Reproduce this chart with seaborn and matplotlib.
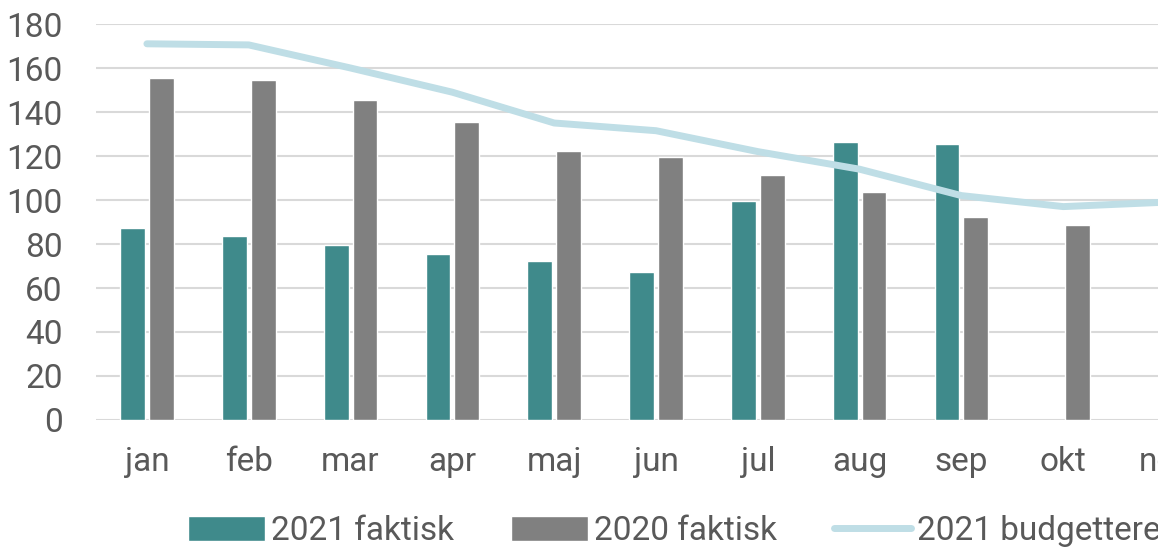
import numpy as np
import pandas as pd
import matplotlib
matplotlib.use("Agg")
import matplotlib.pyplot as plt
import seaborn as sns

months = ["jan", "feb", "mar", "apr", "maj", "jun", "jul", "aug", "sep", "okt", "nov"]
faktisk_2021 = [87.5, 83.5, 79.5, 75.5, 72.5, 67.5, 99.5, 126.5, 125.5, np.nan, np.nan]
faktisk_2020 = [155.5, 154.5, 145.5, 135.5, 122.5, 119.5, 111.5, 103.5, 92.5, 88.5, np.nan]
budget_2021 = [171, 170.5, 160, 149, 135, 131.5, 122, 114, 102, 97, 99]

df = pd.DataFrame({
    "month": months * 2,
    "value": faktisk_2021 + faktisk_2020,
    "serie": ["2021 faktisk"] * len(months) + ["2020 faktisk"] * len(months),
})

sns.set_style("white")
plt.rcParams["font.family"] = ["Roboto", "DejaVu Sans"]
text_col = "#595959"

fig = plt.figure(figsize=(11.58, 5.53), dpi=100)
# axes is wider than the figure on purpose: the source picture is cut on the right
ax = fig.add_axes([96 / 1158, 133 / 553, 1120 / 1158, 396 / 553])

sns.barplot(data=df, x="month", y="value", hue="serie", order=months,
            hue_order=["2021 faktisk", "2020 faktisk"],
            palette=["#3F8A8B", "#808080"], saturation=1,
            width=0.566, gap=0.14, errorbar=None, ax=ax)
sns.lineplot(x=np.arange(len(months)), y=budget_2021, color="#BFDEE6",
             linewidth=5, label="2021 budgetteret", ax=ax)
for ln in ax.lines:
    ln.set_solid_capstyle("round")
    ln.set_solid_joinstyle("round")

ax.set_xlim(-0.5, 10.5)
ax.set_ylim(0, 180)
ax.set_yticks(range(0, 181, 20))
ax.yaxis.grid(True, color="#D9D9D9", linewidth=1.5)
ax.set_axisbelow(True)
for s in ax.spines.values():
    s.set_visible(False)
ax.set_xlabel("")
ax.set_ylabel("")
ax.tick_params(axis="y", length=0, pad=24, labelsize=24, labelcolor=text_col)
ax.tick_params(axis="x", length=0, pad=19, labelsize=24, labelcolor=text_col)

h, l = ax.get_legend_handles_labels()
ax.get_legend().remove()
fig.legend(h, l, loc="center left", bbox_to_anchor=(188 / 1158, 22 / 553),
           ncol=3, frameon=False, fontsize=24, labelcolor=text_col,
           handlelength=2.3, handleheight=0.75, handletextpad=0.2,
           columnspacing=1.7, borderpad=0, borderaxespad=0)

fig.savefig("out.png", dpi=100)
